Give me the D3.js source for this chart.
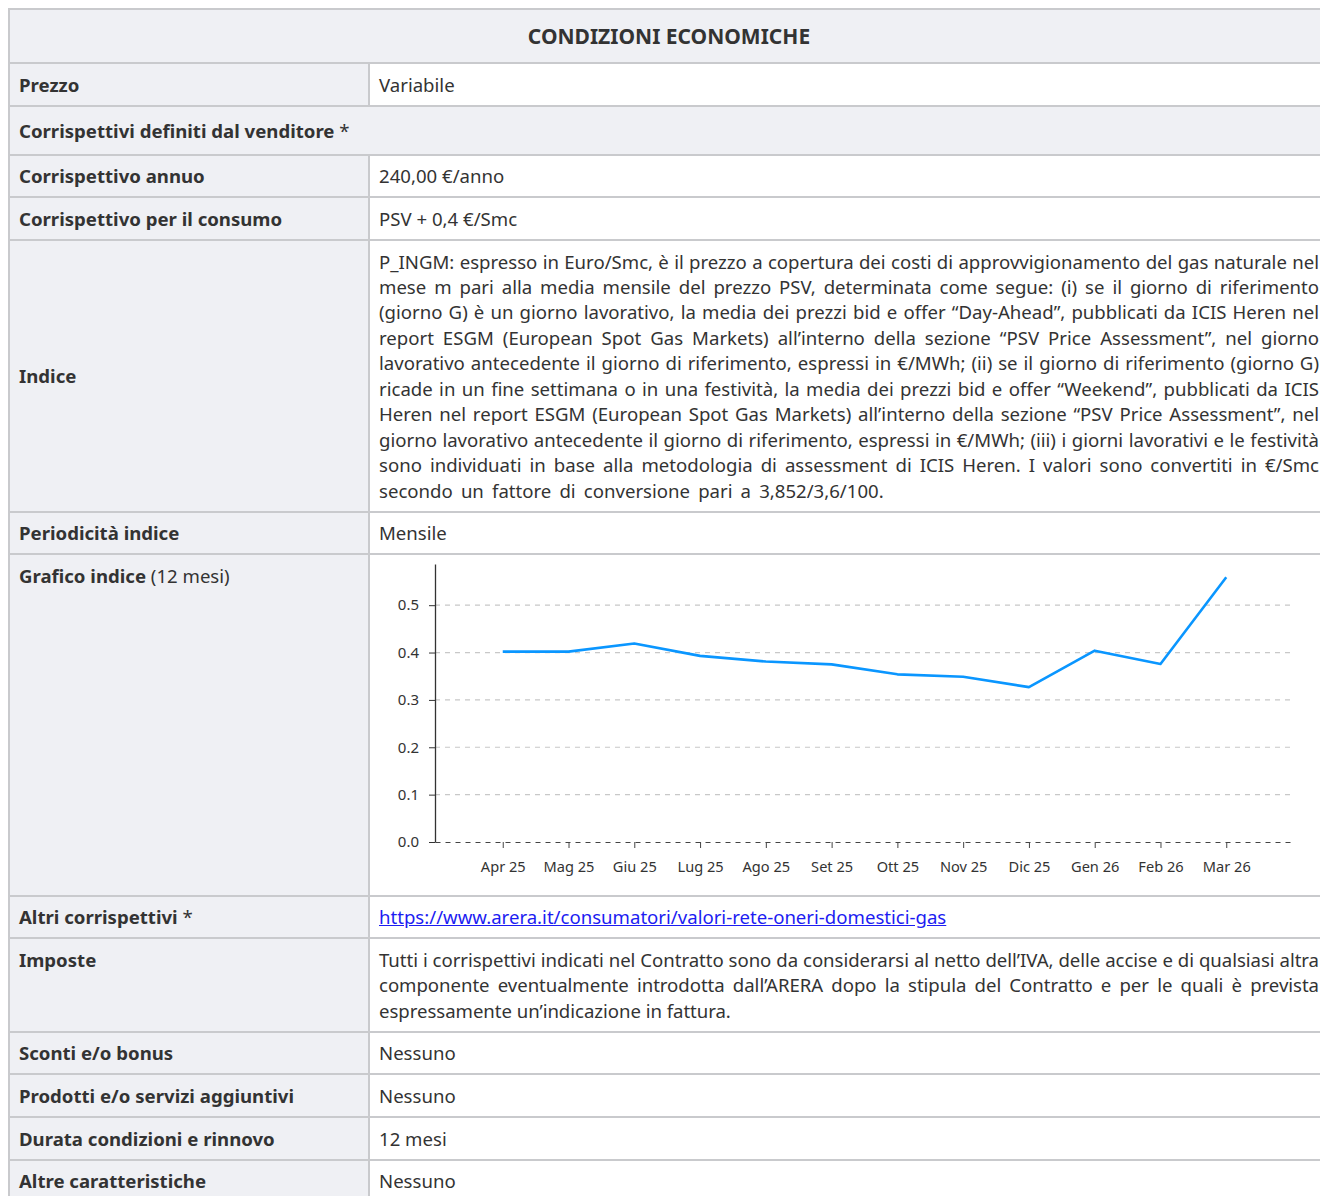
<!DOCTYPE html>
<html lang="it">
<head>
<meta charset="utf-8">
<script src="https://cdn.jsdelivr.net/npm/d3@7"></script>
<style>
  html, body { margin: 0; padding: 0; overflow: hidden; background: #fff; }
  body { padding: 8px 0 0 8px; font-family: "Noto Sans", sans-serif; color: #333; }
  table { border-collapse: collapse; width: 1322px; table-layout: fixed; font-size: 18.6px; line-height: 25.45px; }
  td, th { border: 2px solid #c9cacd; padding: 7.62px 9px; vertical-align: top; }
  th { background: #eff0f4; font-weight: 700; font-size: 21px; padding: 13.5px 9px; }
  td.lab { background: #eff0f4; font-weight: 700; }
  td.lab span { font-weight: 400; }
  td.sec { background: #eff0f4; font-weight: 700; padding: 10.5px 9px; }
  td.sec span { font-weight: 400; }
  td.mid { vertical-align: middle; }
  td.just { text-align: justify; }
  td.tight { letter-spacing: -0.04px; }
  span.wide { word-spacing: 3.3px; }
  a { color: #1c1cf2; }
  #chart svg { display: block; }
</style>
</head>
<body>
<table>
  <colgroup><col style="width:360px"><col></colgroup>
  <tr><th colspan="2">CONDIZIONI ECONOMICHE</th></tr>
  <tr><td class="lab">Prezzo</td><td>Variabile</td></tr>
  <tr><td class="sec" colspan="2">Corrispettivi definiti dal venditore <span>*</span></td></tr>
  <tr><td class="lab">Corrispettivo annuo</td><td>240,00 €/anno</td></tr>
  <tr><td class="lab">Corrispettivo per il consumo</td><td>PSV + 0,4 €/Smc</td></tr>
  <tr><td class="lab mid">Indice</td><td class="just">P_INGM: espresso in Euro/Smc, è il prezzo a copertura dei costi di approvvigionamento del gas naturale nel mese m pari alla media mensile del prezzo PSV, determinata come segue: (i) se il giorno di riferimento (giorno G) è un giorno lavorativo, la media dei prezzi bid e offer “Day-Ahead”, pubblicati da ICIS Heren nel report ESGM (European Spot Gas Markets) all’interno della sezione “PSV Price Assessment”, nel giorno lavorativo antecedente il giorno di riferimento, espressi in €/MWh; (ii) se il giorno di riferimento (giorno G) ricade in un fine settimana o in una festività, la media dei prezzi bid e offer “Weekend”, pubblicati da ICIS Heren nel report ESGM (European Spot Gas Markets) all’interno della sezione “PSV Price Assessment”, nel giorno lavorativo antecedente il giorno di riferimento, espressi in €/MWh; (iii) i giorni lavorativi e le festività sono individuati in base alla metodologia di assessment di ICIS Heren. I valori sono convertiti in €/Smc <span class="wide">secondo un fattore di conversione pari a 3,852/3,6/100.</span></td></tr>
  <tr><td class="lab">Periodicità indice</td><td>Mensile</td></tr>
  <tr><td class="lab">Grafico indice <span>(12 mesi)</span></td><td id="chart" style="padding:7.62px 0 7.62px 9px"></td></tr>
  <tr><td class="lab">Altri corrispettivi <span>*</span></td><td><a href="#">https://www.arera.it/consumatori/valori-rete-oneri-domestici-gas</a></td></tr>
  <tr><td class="lab">Imposte</td><td class="just tight">Tutti i corrispettivi indicati nel Contratto sono da considerarsi al netto dell’IVA, delle accise e di qualsiasi altra componente eventualmente introdotta dall’ARERA dopo la stipula del Contratto e per le quali è prevista espressamente un’indicazione in fattura.</td></tr>
  <tr><td class="lab">Sconti e/o bonus</td><td>Nessuno</td></tr>
  <tr><td class="lab">Prodotti e/o servizi aggiuntivi</td><td>Nessuno</td></tr>
  <tr><td class="lab">Durata condizioni e rinnovo</td><td>12 mesi</td></tr>
  <tr><td class="lab">Altre caratteristiche</td><td>Nessuno</td></tr>
</table>
<script>
const months = ["Apr 25", "Mag 25", "Giu 25", "Lug 25", "Ago 25", "Set 25",
                "Ott 25", "Nov 25", "Dic 25", "Gen 26", "Feb 26", "Mar 26"];
const values = [0.402, 0.402, 0.419, 0.393, 0.381, 0.375,
                0.354, 0.349, 0.327, 0.404, 0.376, 0.559];
const yTicks = [0, 0.1, 0.2, 0.3, 0.4, 0.5];

const margin = {top: 1, right: 25, bottom: 45, left: 56};
const width = 915 - margin.left,
      height = 324 - margin.top - margin.bottom;

const svg = d3.select("#chart").append("svg")
    .attr("width", width + margin.left + margin.right)
    .attr("height", height + margin.top + margin.bottom)
  .append("g")
    .attr("transform", `translate(${margin.left},${margin.top})`);

const x = d3.scalePoint().domain(months).range([0, width]).padding(1.03);
const y = d3.scaleLinear().domain([0, d3.max(values) * 1.05]).range([height, 0]);

// grid
svg.append("g").selectAll("line")
  .data(yTicks.slice(1))
  .join("line")
    .attr("x1", 0).attr("x2", width)
    .attr("y1", d => y(d)).attr("y2", d => y(d))
    .attr("stroke", "#c8c8c8")
    .attr("stroke-width", 1.2)
    .attr("stroke-dasharray", "5,5");

const xAxis = svg.append("g")
    .attr("transform", `translate(0,${height})`)
    .call(d3.axisBottom(x).tickSizeOuter(0).tickPadding(14));
xAxis.select(".domain").attr("stroke", "#444").attr("stroke-dasharray", "5,5").attr("stroke-width", 1.2);
xAxis.selectAll(".tick line").attr("stroke", "#444");
xAxis.selectAll("text").attr("fill", "#333").style("font-size", "14.6px").style("font-family", "Noto Sans");

const yAxis = svg.append("g")
    .call(d3.axisLeft(y).tickValues(yTicks).tickFormat(d3.format(".1f")).tickSizeOuter(0).tickPadding(10));
yAxis.select(".domain").attr("stroke", "#333").attr("stroke-width", 1.3);
yAxis.selectAll(".tick line").attr("stroke", "#333");
yAxis.selectAll("text").attr("fill", "#333").style("font-size", "15px").style("font-family", "Noto Sans");

svg.append("path")
  .datum(values)
  .attr("fill", "none")
  .attr("stroke", "#0a96ff")
  .attr("stroke-width", 2.6)
  .attr("stroke-linejoin", "round")
  .attr("d", d3.line()
    .x((d, i) => x(months[i]))
    .y(d => y(d)));
</script>
</body>
</html>
